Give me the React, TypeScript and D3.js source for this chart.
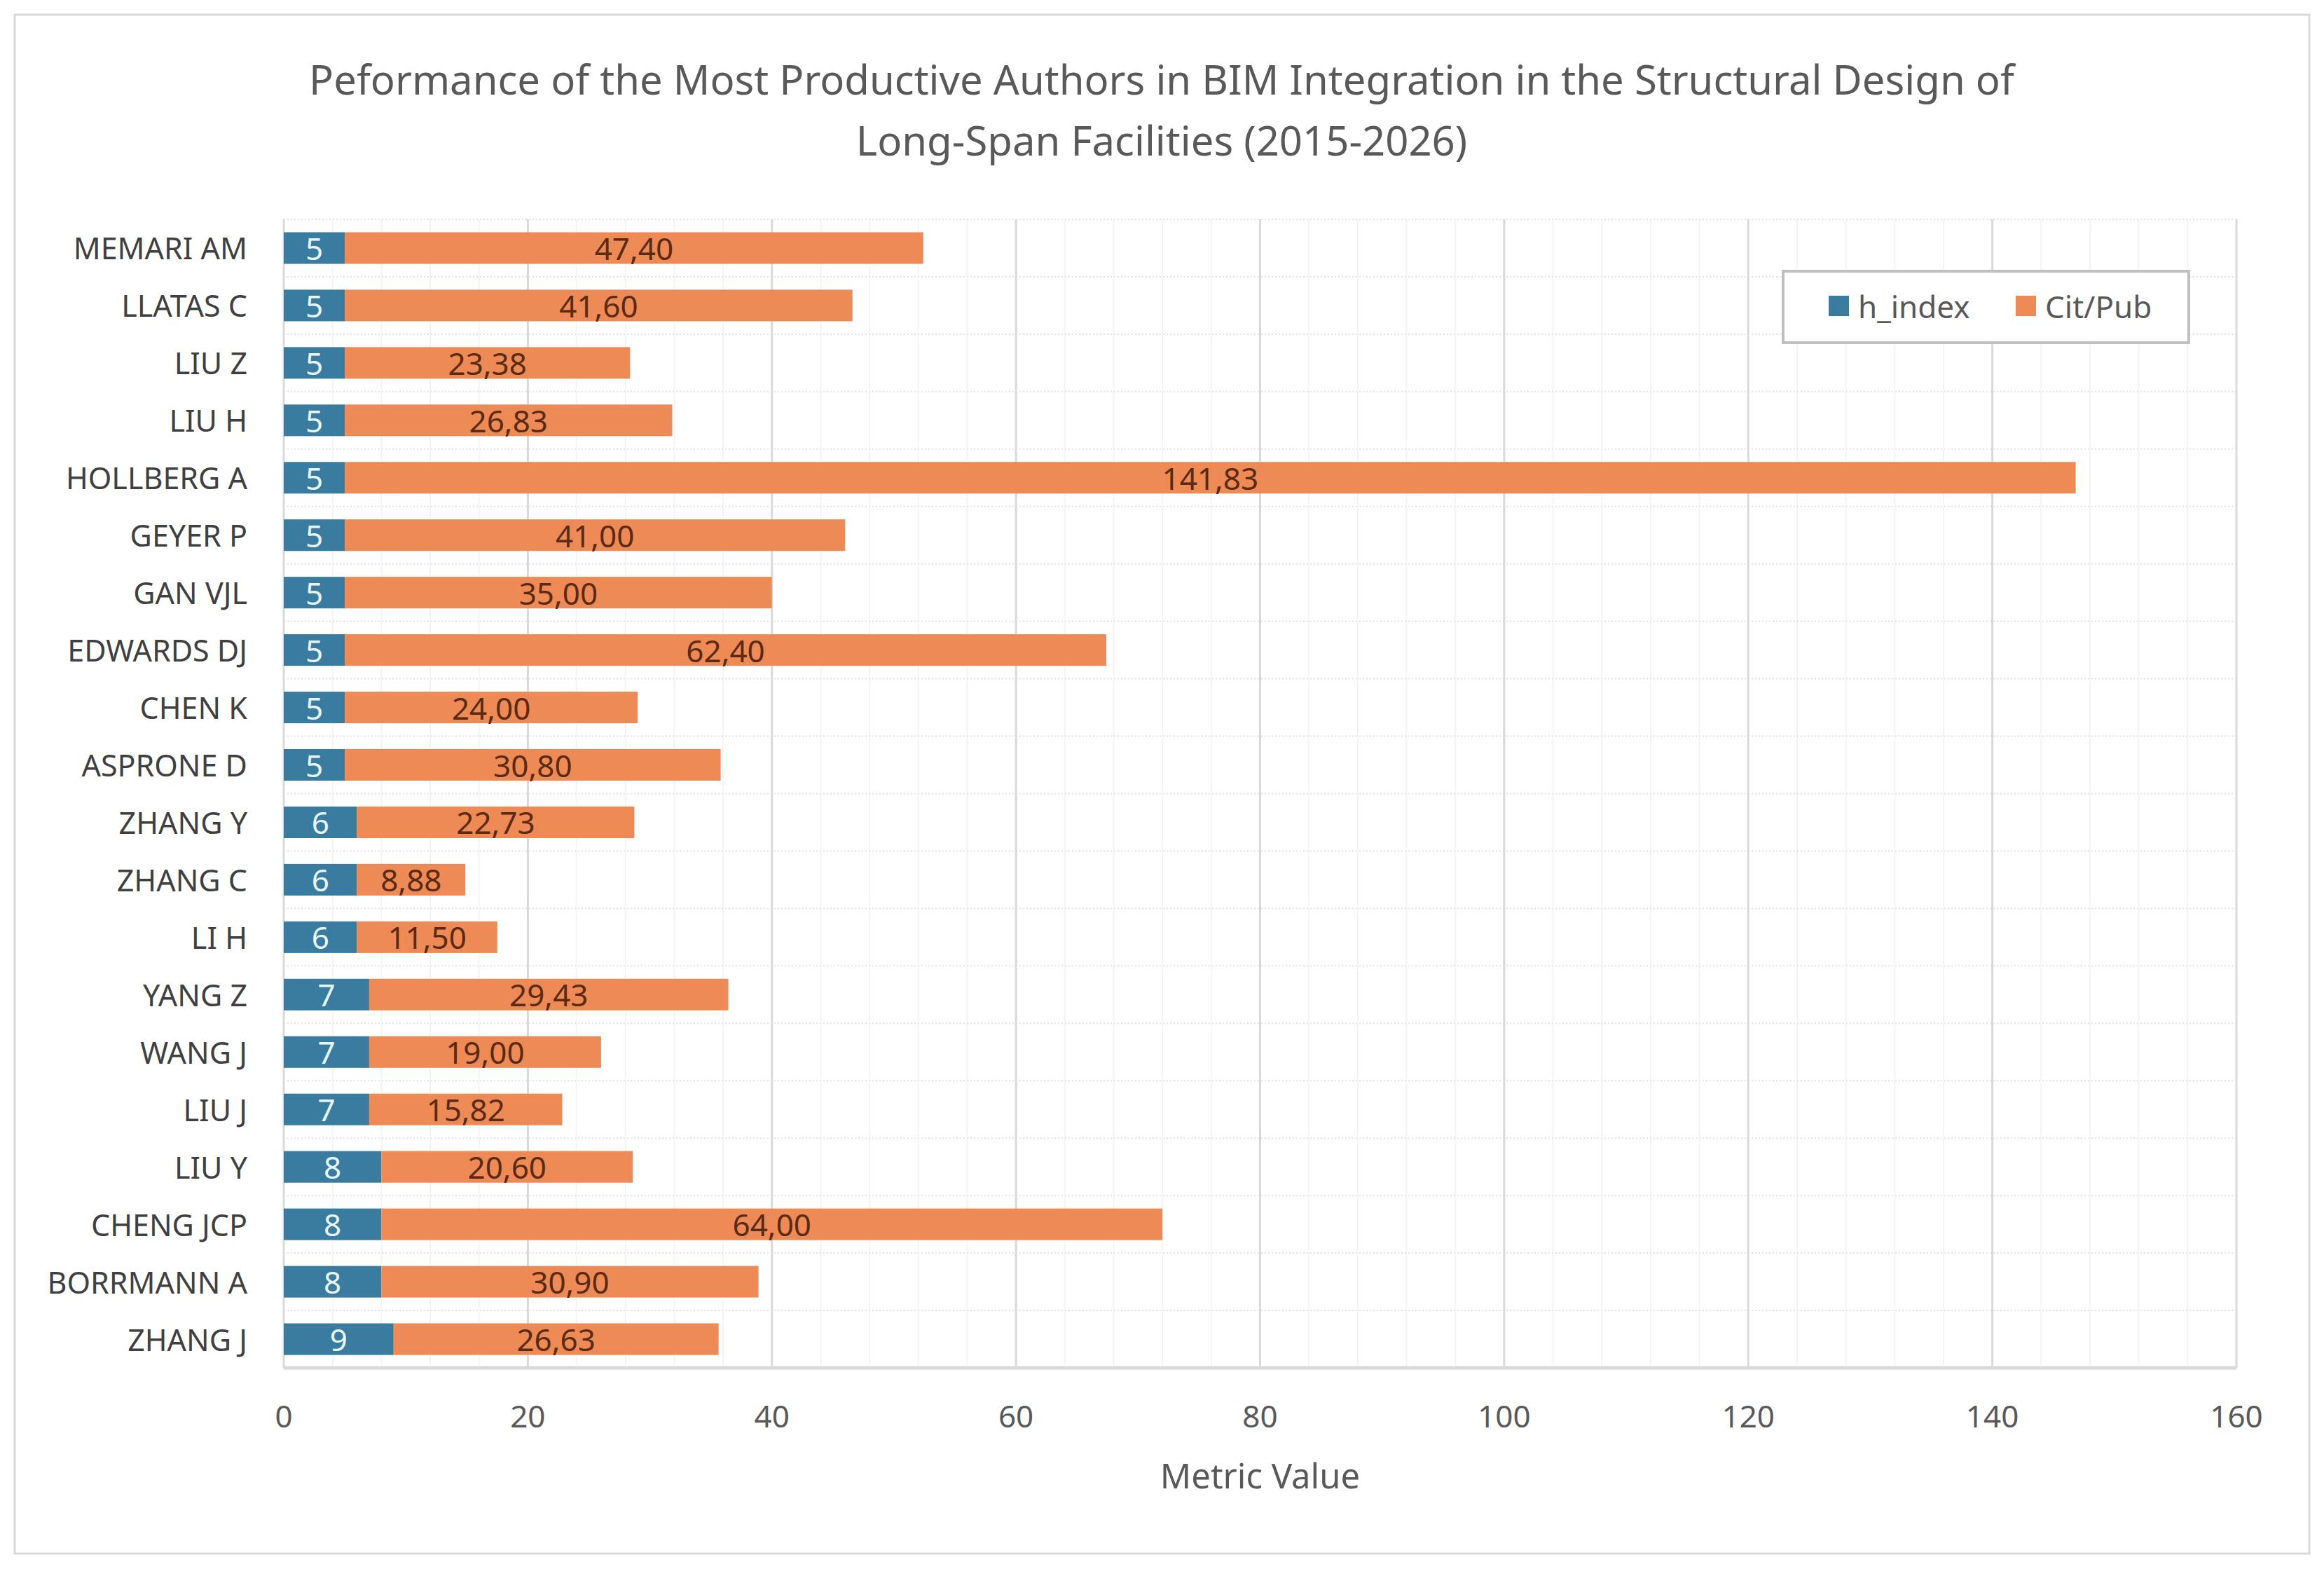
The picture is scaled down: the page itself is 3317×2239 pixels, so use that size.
import React from "react";
import * as d3 from "d3";

// chart data
const authors = [
  "MEMARI AM", "LLATAS C", "LIU Z", "LIU H", "HOLLBERG A", "GEYER P", "GAN VJL",
  "EDWARDS DJ", "CHEN K", "ASPRONE D", "ZHANG Y", "ZHANG C", "LI H", "YANG Z",
  "WANG J", "LIU J", "LIU Y", "CHENG JCP", "BORRMANN A", "ZHANG J",
];
const hIndex = [5, 5, 5, 5, 5, 5, 5, 5, 5, 5, 6, 6, 6, 7, 7, 7, 8, 8, 8, 9];
const citPub = [
  47.4, 41.6, 23.38, 26.83, 141.83, 41.0, 35.0, 62.4, 24.0, 30.8, 22.73, 8.88,
  11.5, 29.43, 19.0, 15.82, 20.6, 64.0, 30.9, 26.63,
];
const xTicks = [0, 20, 40, 60, 80, 100, 120, 140, 160];
const seriesNames = ["h_index", "Cit/Pub"];
const titleLines = [
  "Peformance of the Most Productive Authors in BIM Integration in the Structural Design of",
  "Long-Span Facilities (2015-2026)",
];
const xTitle = "Metric Value";

const W = 3317;
const H = 2239;
const FONT = "'Noto Sans', 'Open Sans', sans-serif";
const BLUE = "#3a7ba0";
const ORANGE = "#ee8a55";

const fmt = (v: number) => v.toFixed(2).replace(".", ",");

export default function App() {
  const margin = { left: 405, right: 3192, top: 313, bottom: 1952 };

  const x = d3.scaleLinear().domain([0, 160]).range([margin.left, margin.right]);
  const y = d3
    .scaleBand<string>()
    .domain(authors)
    .range([margin.top, margin.bottom])
    .paddingInner(0.45)
    .paddingOuter(0.225);

  const band = (margin.bottom - margin.top) / authors.length;
  const minorTicks = d3.range(0, 161, 4).filter((v) => v % 20 !== 0);

  const rows = authors.map((a, i) => ({ name: a, h: hIndex[i], c: citPub[i] }));

  return (
    <svg
      width={W}
      height={H}
      style={{ position: "absolute", left: 0, top: 0, background: "#fff" }}
      fontFamily={FONT}
    >
      <rect x={0} y={0} width={W} height={H} fill="#fff" />
      {/* outer chart border */}
      <rect x={21} y={21} width={3275} height={2196} fill="none" stroke="#d9d9d9" strokeWidth={3} />

      {/* title */}
      {titleLines.map((t, i) => (
        <text
          key={i}
          x={1658}
          y={112 + i * 87}
          textAnchor="middle"
          dominantBaseline="central"
          fontSize={58}
          fill="#595959"
        >
          {t}
        </text>
      ))}

      {/* minor vertical grid */}
      {minorTicks.map((v) => (
        <line key={"m" + v} x1={x(v)} x2={x(v)} y1={margin.top} y2={margin.bottom} stroke="#f4f4f4" strokeWidth={2} />
      ))}
      {/* horizontal dotted lines between categories */}
      {d3.range(0, authors.length).map((i) => (
        <line
          key={"h" + i}
          x1={margin.left}
          x2={margin.right}
          y1={margin.top + i * band}
          y2={margin.top + i * band}
          stroke="#e2e2e2"
          strokeWidth={2}
          strokeDasharray="2,3"
        />
      ))}
      {/* major vertical grid */}
      {xTicks.map((v) => (
        <line key={"g" + v} x1={x(v)} x2={x(v)} y1={margin.top} y2={margin.bottom} stroke="#d9d9d9" strokeWidth={3} />
      ))}
      {/* bottom axis line */}
      <line x1={margin.left} x2={margin.right} y1={margin.bottom} y2={margin.bottom} stroke="#d9d9d9" strokeWidth={5} />

      {/* bars */}
      {rows.map((r) => {
        const y0 = y(r.name) as number;
        const bh = y.bandwidth();
        return (
          <g key={r.name}>
            <rect x={x(0)} y={y0} width={x(r.h) - x(0)} height={bh} fill={BLUE} />
            <rect x={x(r.h)} y={y0} width={x(r.h + r.c) - x(r.h)} height={bh} fill={ORANGE} />
            <text
              x={(x(0) + x(r.h)) / 2}
              y={y0 + bh / 2}
              textAnchor="middle"
              dominantBaseline="central"
              fontSize={44}
              fill="#e6f6ff"
            >
              {r.h}
            </text>
            <text
              x={(x(r.h) + x(r.h + r.c)) / 2}
              y={y0 + bh / 2}
              textAnchor="middle"
              dominantBaseline="central"
              fontSize={44}
              fill="#5a2a12"
            >
              {fmt(r.c)}
            </text>
            <text
              x={353}
              y={y0 + bh / 2}
              textAnchor="end"
              dominantBaseline="central"
              fontSize={43}
              fill="#404040"
            >
              {r.name}
            </text>
          </g>
        );
      })}

      {/* x tick labels */}
      {xTicks.map((v) => (
        <text key={"t" + v} x={x(v)} y={2020} textAnchor="middle" dominantBaseline="central" fontSize={44} fill="#595959">
          {v}
        </text>
      ))}
      <text x={(margin.left + margin.right) / 2} y={2105} textAnchor="middle" dominantBaseline="central" fontSize={49} fill="#595959">
        {xTitle}
      </text>

      {/* legend */}
      <rect x={2545} y={387} width={579} height={102} fill="#fff" stroke="#bfbfbf" strokeWidth={4} />
      {seriesNames.map((s, i) => {
        const lx = [2610, 2877][i];
        return (
          <g key={s}>
            <rect x={lx} y={422} width={29} height={29} fill={i === 0 ? BLUE : ORANGE} />
            <text x={lx + 42} y={437} dominantBaseline="central" fontSize={44} fill="#595959">
              {s}
            </text>
          </g>
        );
      })}
    </svg>
  );
}
